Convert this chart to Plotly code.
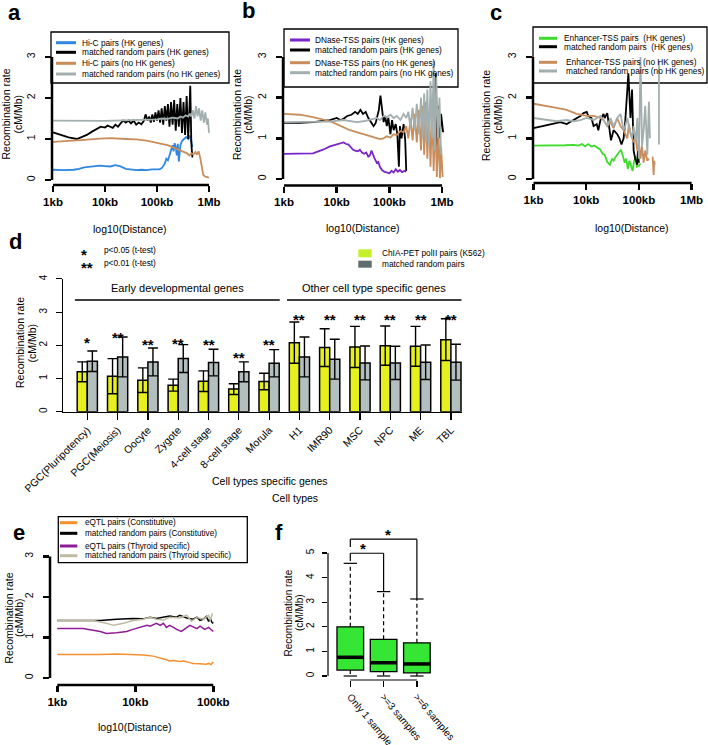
import plotly.graph_objects as go

W, H = 708, 745
FONT = "Liberation Sans, Arial, Helvetica, sans-serif"

# ======================= DATA =======================
dist_ticks = [3, 4, 5, 6]                 # log10(distance in bp)
dist_labels = ["1kb", "10kb", "100kb", "1Mb"]
rate_ticks = [0, 1, 2, 3]

# ---- panel a : Hi-C ----
a_hic_hk_x = [3.00, 3.20, 3.40, 3.50, 3.60, 3.70, 3.80, 3.90, 4.00, 4.10, 4.20, 4.30, 4.40, 4.50, 4.60,
              4.70, 4.80, 4.90, 5.00, 5.05, 5.10, 5.15, 5.18, 5.21, 5.24, 5.27, 5.30, 5.32, 5.34, 5.36,
              5.38, 5.40, 5.42, 5.45, 5.48, 5.52, 5.56, 5.60, 5.63, 5.66, 5.68]
a_hic_hk_y = [0.25, 0.24, 0.25, 0.27, 0.31, 0.32, 0.33, 0.35, 0.34, 0.33, 0.36, 0.33, 0.27, 0.25, 0.24,
              0.25, 0.24, 0.26, 0.27, 0.26, 0.30, 0.40, 0.52, 0.48, 0.60, 0.75, 0.85, 0.70, 0.90, 0.80,
              0.60, 0.88, 0.45, 0.85, 0.95, 1.00, 1.05, 1.00, 1.08, 0.95, 0.80]
a_rnd_hk_x = [3.00, 3.15, 3.30, 3.46, 3.55, 3.65, 3.75, 3.85, 3.92, 4.00, 4.05, 4.10, 4.15, 4.20, 4.25,
              4.30, 4.35, 4.40, 4.45, 4.50, 4.55, 4.60, 4.65, 4.70, 4.75, 4.78, 4.82, 4.85, 4.88, 4.91,
              4.94, 4.97, 5.00, 5.03, 5.06, 5.09, 5.12, 5.15, 5.18, 5.21, 5.24, 5.27, 5.30, 5.33, 5.36,
              5.39, 5.42, 5.45, 5.48, 5.51, 5.54, 5.57, 5.60, 5.62, 5.64, 5.66, 5.68]
a_rnd_hk_y = [1.16, 1.10, 1.04, 1.00, 1.05, 1.10, 1.18, 1.25, 1.30, 1.28, 1.33, 1.30, 1.27, 1.35, 1.30,
              1.38, 1.45, 1.40, 1.45, 1.38, 1.45, 1.35, 1.40, 1.36, 1.45, 1.60, 1.45, 1.55, 1.40, 1.60,
              1.42, 1.65, 1.45, 1.70, 1.40, 1.75, 1.35, 1.80, 1.45, 1.85, 1.30, 1.90, 1.35, 1.95, 1.20,
              1.85, 1.30, 2.00, 1.15, 1.90, 1.10, 2.05, 1.00, 1.60, 2.30, 0.90, 0.55]
a_hic_nohk_x = [3.00, 3.30, 3.60, 3.90, 4.10, 4.40, 4.60, 4.80, 5.00, 5.10, 5.20, 5.30, 5.40, 5.50,
                5.58, 5.62, 5.66, 5.70, 5.74, 5.77, 5.80, 5.83, 5.86, 5.89, 5.93, 5.97, 6.00]
a_hic_nohk_y = [0.93, 0.95, 0.98, 1.01, 1.02, 1.00, 0.99, 0.96, 0.90, 0.88, 0.85, 0.80, 0.74, 0.70,
                0.65, 0.60, 0.65, 0.62, 0.68, 0.62, 0.70, 0.55, 0.35, 0.12, 0.08, 0.06, 0.06]
a_rnd_nohk_x = [3.00, 3.50, 4.00, 4.50, 4.80, 5.00, 5.10, 5.20, 5.30, 5.40, 5.45, 5.50, 5.55, 5.60,
                5.63, 5.66, 5.69, 5.72, 5.75, 5.78, 5.81, 5.84, 5.87, 5.90, 5.93, 5.96, 5.98, 6.00]
a_rnd_nohk_y = [1.45, 1.45, 1.44, 1.46, 1.47, 1.48, 1.50, 1.49, 1.52, 1.50, 1.55, 1.52, 1.58, 1.55,
                1.62, 1.55, 1.70, 1.50, 1.80, 1.55, 1.75, 1.45, 1.70, 1.40, 1.65, 1.35, 1.50, 1.15]

# ---- panel b : DNase-TSS ----
b_dn_hk_x = [3.00, 3.30, 3.55, 3.65, 3.74, 3.87, 3.95, 4.05, 4.13, 4.18, 4.22, 4.27, 4.31, 4.35, 4.40,
             4.44, 4.48, 4.52, 4.56, 4.60, 4.63, 4.66, 4.69, 4.72, 4.76, 4.79, 4.82, 4.86, 4.90, 4.95,
             5.00, 5.04, 5.08, 5.12, 5.16, 5.20, 5.24, 5.28, 5.32]
b_dn_hk_y = [0.62, 0.62, 0.63, 0.68, 0.72, 0.80, 0.83, 0.87, 0.90, 0.86, 0.85, 0.78, 0.72, 0.70, 0.68,
             0.72, 0.65, 0.62, 0.65, 0.55, 0.58, 0.70, 0.58, 0.50, 0.40, 0.42, 0.30, 0.22, 0.18, 0.15,
             0.14, 0.20, 0.16, 0.24, 0.18, 0.22, 0.17, 0.20, 0.18]
b_rnd_hk_x = [3.00, 3.30, 3.55, 3.74, 3.87, 4.00, 4.07, 4.13, 4.20, 4.28, 4.35, 4.40, 4.45, 4.50, 4.55,
              4.60, 4.65, 4.70, 4.74, 4.77, 4.80, 4.83, 4.86, 4.89, 4.92, 4.95, 4.98, 5.02, 5.05, 5.08,
              5.12, 5.15, 5.18, 5.20, 5.23, 5.27, 5.30, 5.32, None, 5.86, 5.88, 5.90, 5.93, 5.96, 5.98, 6.02]
b_rnd_hk_y = [1.38, 1.38, 1.40, 1.42, 1.45, 1.50, 1.45, 1.48, 1.55, 1.58, 1.65, 1.60, 1.70, 1.60, 1.65,
              1.50, 1.40, 1.30, 1.38, 1.55, 1.70, 2.05, 1.75, 1.40, 1.55, 1.30, 1.50, 1.10, 1.45, 1.20,
              1.35, 1.10, 0.30, 1.30, 1.00, 1.35, 0.95, 0.20, None, 1.40, 2.60, 0.80, 1.80, 1.00, 1.60, 1.15]
b_dn_nohk_x = [3.00, 3.30, 3.55, 3.74, 3.87, 4.00, 4.13, 4.25, 4.38, 4.51, 4.63, 4.76, 4.82, 4.89, 4.95,
               5.02, 5.08, 5.14, 5.21, 5.27, 5.32, 5.36, 5.40, 5.44, 5.48, 5.52, 5.56, 5.60, 5.63, 5.66,
               5.69, 5.72, 5.75, 5.78, 5.81, 5.84, 5.87, 5.90, 5.93, 5.96, 5.98, 6.01]
b_dn_nohk_y = [1.60, 1.58, 1.52, 1.47, 1.42, 1.35, 1.27, 1.20, 1.15, 1.10, 1.06, 1.00, 0.98, 1.00, 1.05,
               1.02, 1.10, 1.08, 1.18, 1.15, 1.30, 1.00, 1.50, 0.95, 1.60, 0.90, 1.70, 0.70, 1.80, 0.60,
               1.90, 0.50, 1.60, 0.30, 1.70, 0.20, 1.50, 0.05, 1.20, 0.02, 0.80, 0.05]
b_rnd_nohk_x = [3.00, 3.50, 3.87, 4.13, 4.38, 4.51, 4.63, 4.76, 4.82, 4.89, 4.95, 5.02, 5.08, 5.14, 5.21,
                5.27, 5.32, 5.36, 5.40, 5.44, 5.48, 5.52, 5.56, 5.60, 5.63, 5.66, 5.69, 5.72, 5.75, 5.78,
                5.81, 5.84, 5.86, 5.89, 5.92, 5.95, 5.98]
b_rnd_nohk_y = [1.40, 1.40, 1.41, 1.45, 1.40, 1.42, 1.45, 1.50, 1.45, 1.55, 1.52, 1.58, 1.50, 1.55, 1.45,
                1.60, 1.50, 1.65, 1.25, 1.75, 1.20, 1.85, 1.10, 2.00, 1.00, 2.10, 0.90, 2.20, 0.80, 2.40,
                1.00, 2.90, 0.70, 2.50, 1.00, 2.00, 0.60]

# ---- panel c : Enhancer-TSS ----
c_en_hk_x = [3.00, 3.30, 3.60, 3.76, 3.85, 3.92, 3.98, 4.04, 4.10, 4.16, 4.22, 4.27, 4.31, 4.35, 4.40,
             4.45, 4.49, 4.52, 4.56, 4.62, 4.66, 4.70, 4.73, 4.76, 4.79, 4.82, 4.85, 4.88, 4.91, 4.94,
             4.96, 5.00, 5.03]
c_en_hk_y = [0.82, 0.82, 0.83, 0.84, 0.82, 0.86, 0.80, 0.86, 0.80, 0.82, 0.76, 0.72, 0.62, 0.60, 0.42,
             0.35, 0.50, 0.45, 0.55, 0.65, 0.72, 0.55, 0.40, 0.50, 0.25, 0.45, 0.30, 0.20, 0.45, 0.55,
             0.30, 0.32, 0.38]
c_rnd_hk_x = [3.00, 3.19, 3.38, 3.51, 3.63, 3.76, 3.89, 3.95, 4.01, 4.04, 4.10, 4.14, 4.20, 4.23, 4.27,
              4.33, 4.35, 4.40, 4.42, 4.44, 4.47, 4.50, 4.52, 4.59, 4.63, 4.67, 4.71, 4.74, 4.80, 4.84,
              4.87, 4.90, 4.93, 4.97, 4.98, 5.00]
c_rnd_hk_y = [1.25, 1.30, 1.35, 1.40, 1.35, 1.45, 1.55, 1.62, 1.65, 1.55, 1.50, 1.30, 1.35, 1.20, 1.45,
              1.60, 1.50, 1.62, 1.40, 1.20, 0.95, 1.10, 1.20, 1.10, 1.00, 0.85, 1.00, 1.40, 2.60, 1.50,
              2.20, 0.70, 0.50, 0.35, 0.70, 0.40]
c_en_nohk_x = [3.00, 3.25, 3.44, 3.63, 3.82, 4.01, 4.14, 4.27, 4.33, 4.40, 4.46, 4.52, 4.59, 4.65, 4.71,
               4.78, 4.81, 4.84, 4.90, 4.94, 4.97, 5.00, 5.03, 5.06, 5.09, 5.12, 5.16, 5.19, None, 5.26,
               5.28, 5.29, 5.30]
c_en_nohk_y = [1.85, 1.80, 1.75, 1.70, 1.60, 1.55, 1.55, 1.50, 1.45, 1.30, 1.40, 1.25, 1.50, 1.30, 1.20,
               1.00, 1.35, 1.15, 0.90, 1.00, 0.70, 0.90, 0.50, 0.80, 0.40, 0.70, 0.45, 0.50, None, 0.55,
               0.10, 0.45, 0.35]
c_rnd_nohk_x = [3.00, 3.25, 3.44, 3.63, 3.76, 3.89, 4.01, 4.14, 4.27, 4.33, 4.40, 4.46, 4.52, 4.59, 4.65,
                4.71, 4.74, 4.78, 4.84, 4.87, 4.90, 4.94, 4.97, 5.00, 5.03, 5.06, 5.09, 5.12, 5.16, 5.19,
                5.21, None, 5.38, 5.38]
c_rnd_nohk_y = [1.50, 1.45, 1.42, 1.45, 1.42, 1.45, 1.50, 1.45, 1.55, 1.45, 1.30, 1.50, 1.30, 1.50, 1.60,
                1.20, 1.30, 1.50, 1.10, 1.00, 1.30, 0.90, 1.50, 0.50, 3.00, 0.80, 1.20, 1.80, 0.60, 1.90,
                1.00, None, 0.85, 2.90]

# ---- panel d : ChIA-PET bars ----
d_cells = ["PGC(Pluripotency)", "PGC(Meiosis)", "Oocyte", "Zygote", "4-cell stage", "8-cell stage",
           "Morula", "H1", "IMR90", "MSC", "NPC", "ME", "TBL"]
d_chia_mean = [1.20, 1.07, 0.95, 0.80, 0.92, 0.68, 0.91, 2.08, 1.93, 1.95, 1.99, 1.97, 2.17]
d_chia_err = [0.30, 0.53, 0.37, 0.18, 0.31, 0.16, 0.25, 0.62, 0.57, 0.62, 0.59, 0.60, 0.63]
d_rand_mean = [1.52, 1.65, 1.50, 1.60, 1.48, 1.20, 1.46, 1.65, 1.58, 1.47, 1.47, 1.49, 1.49]
d_rand_err = [0.31, 0.60, 0.42, 0.42, 0.40, 0.30, 0.41, 0.60, 0.60, 0.51, 0.50, 0.52, 0.54]
d_sig = ["*", "**", "**", "**", "**", "**", "**", "**", "**", "**", "**", "**", "**"]
d_sig_y = [2.25, 2.40, 2.17, 2.22, 2.17, 1.78, 2.17, 2.92, 2.92, 2.92, 2.92, 2.92, 2.92]
d_groups = [("Early developmental genes", 0, 6), ("Other cell type specific genes", 7, 12)]

# ---- panel e : eQTL ----
e_const_x = [3.00, 3.33, 3.55, 3.76, 3.97, 4.10, 4.23, 4.32, 4.40, 4.44, 4.49, 4.57, 4.62, 4.70, 4.74,
             4.83, 4.91, 4.94, 4.97, 5.00]
e_const_y = [0.58, 0.57, 0.58, 0.59, 0.58, 0.57, 0.54, 0.50, 0.45, 0.42, 0.43, 0.41, 0.42, 0.38, 0.36,
             0.35, 0.34, 0.36, 0.33, 0.40]
e_rnd_const_x = [3.00, 3.55, 3.76, 3.97, 4.10, 4.19, 4.27, 4.36, 4.44, 4.53, 4.57, 4.66, 4.74, 4.79, 4.83,
                 4.87, 4.91, 4.94, 4.96, 4.98, 5.00]
e_rnd_const_y = [1.42, 1.42, 1.45, 1.47, 1.46, 1.50, 1.47, 1.50, 1.53, 1.50, 1.55, 1.48, 1.45, 1.50, 1.42,
                 1.45, 1.52, 1.40, 1.48, 1.38, 1.35]
e_thy_x = [3.00, 3.33, 3.55, 3.63, 3.76, 3.89, 3.97, 4.06, 4.15, 4.19, 4.27, 4.32, 4.36, 4.40, 4.44,
           4.49, 4.53, 4.59, 4.66, 4.70, 4.79, 4.83, 4.89, 4.94, 4.98, 5.00]
e_thy_y = [1.22, 1.22, 1.15, 1.10, 1.12, 1.15, 1.20, 1.25, 1.30, 1.28, 1.35, 1.30, 1.35, 1.25, 1.30,
           1.25, 1.20, 1.15, 1.25, 1.30, 1.22, 1.28, 1.20, 1.25, 1.18, 1.15]
e_rnd_thy_x = [3.00, 3.46, 3.63, 3.72, 3.85, 3.97, 4.10, 4.19, 4.27, 4.36, 4.44, 4.57, 4.66, 4.72, 4.79,
               4.87, 4.94, 4.96, 4.99]
e_rnd_thy_y = [1.42, 1.42, 1.35, 1.30, 1.35, 1.42, 1.45, 1.50, 1.45, 1.43, 1.50, 1.48, 1.55, 1.40, 1.50,
               1.45, 1.55, 1.42, 1.60]
e_ticks = [3, 4, 5]
e_labels = ["1kb", "10kb", "100kb"]

# ---- panel f : boxplots ----
f_groups = ["Only 1 sample", ">=3 samples", ">=6 samples"]
f_pos = [1, 2, 3]
f_low = [0.0, 0.0, 0.0]
f_q1 = [0.24, 0.18, 0.13]
f_med = [0.76, 0.54, 0.49]
f_q3 = [2.00, 1.49, 1.35]
f_high = [4.58, 3.43, 3.13]
f_brackets = [(1, 2, 4.99, 4.67, 1.39), (1, 3, 5.56, 5.24, 2.14)]   # (from, to, height, left-leg end, star x)

# ======================= STYLE =======================
C_BLUE, C_BLACK, C_BROWN, C_GREY = "#2F87E2", "#000000", "#C98D5B", "#A3AEAE"
C_PURPLE, C_GREEN = "#7B25C9", "#3DDC2A"
C_ORANGE, C_MAGENTA, C_KHAKI = "#F5902E", "#901A98", "#BFBAA2"
C_YELLOW, C_BARGREY = "#E6F01E", "#B3BFBE"
C_LEG_YELLOW, C_LEG_GREY = "#C6F02A", "#5E6D6D"
C_BOX = "#35E635"
LEG_SIZE = 8.3


class Panel:
    """Pixel layout of one subplot: domain box and value->pixel anchor."""
    def __init__(self, xl, xr, yt, yb, xv0, xp0, xs, yv0, yp0, ys):
        self.xl, self.xr, self.yt, self.yb = xl, xr, yt, yb
        self.xv0, self.xp0, self.xs = xv0, xp0, xs
        self.yv0, self.yp0, self.ys = yv0, yp0, ys
        self.xrange = [xv0 + (xl - xp0) / xs, xv0 + (xr - xp0) / xs]
        self.yrange = [yv0 + (yp0 - yb) / ys, yv0 + (yp0 - yt) / ys]

    def xdom(self):
        return [self.xl / W, self.xr / W]

    def ydom(self):
        return [1 - self.yb / H, 1 - self.yt / H]

    def X(self, v):
        return (self.xp0 + (v - self.xv0) * self.xs) / W

    def Y(self, v):
        return 1 - (self.yp0 - (v - self.yv0) * self.ys) / H


PA = Panel(52, 222, 40, 185, 3, 53, 52.0, 0, 180, 41.0)
PB = Panel(283, 452, 40, 185.5, 3, 284, 52.7, 0, 179, 40.67)
PC = Panel(533, 703, 40, 183, 3, 533.5, 52.7, 0, 179, 40.67)
PD = Panel(63, 462, 278.9, 411.7, 0, 87.3, 30.3, 0, 411.7, 33.2)
PE = Panel(50, 226, 548, 685, 3, 57.3, 78.0, 0, 678, 40.5)
PF = Panel(328, 437, 528, 680, 1, 350.3, 33.3, 0, 676, 24.6)

fig = go.Figure()
shapes = []
annots = []


def px_x(p):
    return p / W


def px_y(p):
    return 1 - p / H


def text(x, y, s, size=10, bold=False, xanchor="center", yanchor="middle", angle=0, yshift=0):
    annots.append(dict(x=x, y=y, xref="paper", yref="paper", text=("<b>%s</b>" % s) if bold else s,
                       showarrow=False, xanchor=xanchor, yanchor=yanchor, textangle=angle, yshift=yshift,
                       font=dict(family=FONT, size=size, color="black")))


def pline(x0, y0, x1, y1, w=1.0, color="black", dash=None):
    ln = dict(color=color, width=w)
    if dash:
        ln["dash"] = dash
    shapes.append(dict(type="line", xref="paper", yref="paper", x0=x0, y0=y0, x1=x1, y1=y1, line=ln))


def add_line(xs, ys, color, w, ax):
    fig.add_trace(go.Scatter(x=xs, y=ys, mode="lines", line=dict(color=color, width=w),
                             xaxis="x" + ax, yaxis="y" + ax, hoverinfo="skip", connectgaps=False))


def legend_box(l, t, r, b, entries, sx0, sx1, tx, size=LEG_SIZE):
    shapes.append(dict(type="rect", xref="paper", yref="paper", x0=px_x(l), x1=px_x(r),
                       y0=px_y(b), y1=px_y(t), line=dict(color="black", width=1.3), layer="below"))
    for color, label, yy, txx in entries:
        pline(px_x(sx0), px_y(yy), px_x(sx1), px_y(yy), w=3, color=color)
        text(px_x(txx if txx else tx), px_y(yy), label, size=size, xanchor="left")


def line_axes(n, P, tickvals, ticklabels):
    ax = dict(domain=P.xdom(), range=P.xrange, anchor="y" + n, tickvals=tickvals, automargin=False,
              ticktext=["<b>%s</b>" % t for t in ticklabels], ticks="outside", ticklen=6, tickwidth=2.5,
              tickcolor="black", showline=False, showgrid=False, zeroline=False,
              tickfont=dict(family=FONT, size=11.5, color="black"))
    ay = dict(domain=P.ydom(), range=P.yrange, anchor="x" + n, tickvals=rate_ticks, tickangle=-90,
              ticks="outside", ticklen=6, tickwidth=2.5, tickcolor="black", showline=False,
              showgrid=False, zeroline=False, ticklabelstandoff=6, automargin=False,
              tickfont=dict(family=FONT, size=10.5, color="black"))
    # R-style detached axis lines spanning the tick range
    pline(px_x(P.xl), P.Y(rate_ticks[0]), px_x(P.xl), P.Y(rate_ticks[-1]), w=2.5)
    pline(P.X(tickvals[0]), px_y(P.yb), P.X(tickvals[-1]), px_y(P.yb), w=2.5)
    return ax, ay


def ytitle(x1, x2, yc, size=10.5):
    text(px_x(x1), px_y(yc), "Recombination rate", size=size, angle=-90)
    text(px_x(x2), px_y(yc), "(cM/Mb)", size=size, angle=-90)


layout_axes = {}

# ---------------- panel a ----------------
add_line(a_hic_hk_x, a_hic_hk_y, C_BLUE, 1.8, "")
add_line(a_rnd_hk_x, a_rnd_hk_y, C_BLACK, 1.8, "")
add_line(a_hic_nohk_x, a_hic_nohk_y, C_BROWN, 1.8, "")
add_line(a_rnd_nohk_x, a_rnd_nohk_y, C_GREY, 1.8, "")
ax, ay = line_axes("", PA, dist_ticks, dist_labels)
ax["anchor"] = "y"; ay["anchor"] = "x"
layout_axes["xaxis"] = ax; layout_axes["yaxis"] = ay
legend_box(51, 32, 229, 83,
           [(C_BLUE, "Hi-C pairs (HK genes)", 42.7, None),
            (C_BLACK, "matched random pairs (HK genes)", 52.3, None),
            (C_BROWN, "Hi-C pairs (no HK genes)", 63.3, None),
            (C_GREY, "matched random pairs (no HK genes)", 74, None)], 56, 76, 80)
ytitle(5.5, 17.5, 114)
text(px_x(130), px_y(229), "log10(Distance)", size=10.5)
text(px_x(14), px_y(12), "a", size=22, bold=True)

# ---------------- panel b ----------------
add_line(b_dn_hk_x, b_dn_hk_y, C_PURPLE, 1.8, "2")
add_line(b_rnd_hk_x, b_rnd_hk_y, C_BLACK, 1.8, "2")
add_line(b_dn_nohk_x, b_dn_nohk_y, C_BROWN, 1.8, "2")
add_line(b_rnd_nohk_x, b_rnd_nohk_y, C_GREY, 1.8, "2")
ax, ay = line_axes("2", PB, dist_ticks, dist_labels)
layout_axes["xaxis2"] = ax; layout_axes["yaxis2"] = ay
legend_box(284, 29, 458, 87,
           [(C_PURPLE, "DNase-TSS pairs (HK genes)", 40, None),
            (C_BLACK, "matched random pairs (HK genes)", 50, None),
            (C_BROWN, "DNase-TSS pairs (no HK genes)", 62.7, None),
            (C_GREY, "matched random pairs (no HK genes)", 72.7, None)], 290, 310, 313)
ytitle(237, 248, 115)
text(px_x(363), px_y(228), "log10(Distance)", size=10.5)
text(px_x(248), px_y(11), "b", size=22, bold=True)

# ---------------- panel c ----------------
add_line(c_en_hk_x, c_en_hk_y, C_GREEN, 1.8, "3")
add_line(c_rnd_hk_x, c_rnd_hk_y, C_BLACK, 1.8, "3")
add_line(c_en_nohk_x, c_en_nohk_y, C_BROWN, 1.8, "3")
add_line(c_rnd_nohk_x, c_rnd_nohk_y, C_GREY, 1.8, "3")
ax, ay = line_axes("3", PC, dist_ticks, dist_labels)
layout_axes["xaxis3"] = ax; layout_axes["yaxis3"] = ay
legend_box(533, 27, 707, 83,
           [(C_GREEN, "Enhancer-TSS pairs \u00a0(HK genes)", 38.3, 562),
            (C_BLACK, "matched random pairs \u00a0(HK genes)", 46.7, 562),
            (C_BROWN, "Enhancer-TSS pairs (no HK genes)", 62.3, 564),
            (C_GREY, "matched random pairs (no HK genes)", 71, 564)], 539, 557, 562)
ytitle(486, 498, 115)
text(px_x(632), px_y(228), "log10(Distance)", size=10.5)
text(px_x(496), px_y(12), "c", size=22, bold=True)

# ---------------- panel d ----------------
fig.add_trace(go.Bar(x=d_cells, y=d_chia_mean, xaxis="x4", yaxis="y4",
                     marker=dict(color=C_YELLOW, line=dict(color="black", width=1.5)),
                     error_y=dict(type="data", array=d_chia_err, color="black", thickness=1.4, width=5),
                     hoverinfo="skip"))
fig.add_trace(go.Bar(x=d_cells, y=d_rand_mean, xaxis="x4", yaxis="y4",
                     marker=dict(color=C_BARGREY, line=dict(color="black", width=1.5)),
                     error_y=dict(type="data", array=d_rand_err, color="black", thickness=1.4, width=5),
                     hoverinfo="skip"))
layout_axes["xaxis4"] = dict(domain=PD.xdom(), range=PD.xrange, anchor="y4", type="category",
                             tickangle=-45, ticks="outside", ticklen=7, tickwidth=1.2, tickcolor="black",
                             showline=True, linecolor="black", linewidth=1.2, showgrid=False,
                             zeroline=False, automargin=False,
                             tickfont=dict(family=FONT, size=10.5, color="black"))
layout_axes["yaxis4"] = dict(domain=PD.ydom(), range=PD.yrange, anchor="x4", tickvals=[0, 1, 2, 3, 4],
                             tickangle=-90, ticks="outside", ticklen=6, tickwidth=1.2, tickcolor="black",
                             showline=True, linecolor="black", linewidth=1.2, showgrid=False,
                             zeroline=False, ticklabelstandoff=5, automargin=False,
                             tickfont=dict(family=FONT, size=10, color="black"))
for i, (s, yv) in enumerate(zip(d_sig, d_sig_y)):
    annots.append(dict(x=d_cells[i], y=yv, xref="x4", yref="y4", text="<b>%s</b>" % s, showarrow=False,
                       yshift=-5, font=dict(family=FONT, size=15, color="black")))
for label, i0, i1 in d_groups:
    x0 = PD.X(i0 - 0.41)
    x1 = PD.X(i1 + 0.35)
    pline(x0, px_y(300), x1, px_y(300), w=1.3)
    text((x0 + x1) / 2, px_y(287.5), label, size=11)
ytitle(20, 31.5, 343)
text(px_x(270), px_y(481), "Cell types specific genes", size=10.5)
text(px_x(295), px_y(498), "Cell types", size=10.5)
text(px_x(15), px_y(242), "d", size=22, bold=True)
# significance key
text(px_x(84), px_y(250), "<b>*</b>", size=15, yshift=-5)
text(px_x(101.7), px_y(250), "p<0.05 (t-test)", size=8.3, xanchor="left")
text(px_x(87), px_y(262.5), "<b>**</b>", size=15, yshift=-5)
text(px_x(101.7), px_y(263), "p<0.01 (t-test)", size=8.3, xanchor="left")
# bar legend
shapes.append(dict(type="rect", xref="paper", yref="paper", x0=px_x(358.3), x1=px_x(371.7),
                   y0=px_y(257.3), y1=px_y(249.3), fillcolor=C_LEG_YELLOW, line=dict(width=0)))
shapes.append(dict(type="rect", xref="paper", yref="paper", x0=px_x(358.3), x1=px_x(371.7),
                   y0=px_y(267.7), y1=px_y(260.7), fillcolor=C_LEG_GREY, line=dict(width=0)))
text(px_x(380), px_y(253), "ChIA-PET polII pairs (K562)", size=8.3, xanchor="left")
text(px_x(380), px_y(264.3), "matched random pairs", size=8.3, xanchor="left")

# ---------------- panel e ----------------
add_line(e_const_x, e_const_y, C_ORANGE, 1.5, "5")
add_line(e_rnd_const_x, e_rnd_const_y, C_BLACK, 1.5, "5")
add_line(e_thy_x, e_thy_y, C_MAGENTA, 1.5, "5")
add_line(e_rnd_thy_x, e_rnd_thy_y, C_KHAKI, 1.5, "5")
ax, ay = line_axes("5", PE, e_ticks, e_labels)
layout_axes["xaxis5"] = ax; layout_axes["yaxis5"] = ay
legend_box(58.3, 516.7, 247.3, 562.7,
           [(C_ORANGE, "eQTL pairs (Constitutive)", 522.7, None),
            (C_BLACK, "matched random pairs (Constitutive)", 533.3, None),
            (C_MAGENTA, "eQTL pairs (Thyroid specific)", 546, None),
            (C_KHAKI, "matched random pairs (Thyroid specific)", 555.7, None)], 60, 77.3, 82.7, size=8.2)
ytitle(8.5, 19, 618)
text(px_x(135), px_y(727), "log10(Distance)", size=10.5)
text(px_x(19), px_y(532), "e", size=22, bold=True)

# ---------------- panel f ----------------
fig.add_trace(go.Bar(x=f_pos, y=[q3 - q1 for q1, q3 in zip(f_q1, f_q3)], base=f_q1, width=0.8,
                     xaxis="x6", yaxis="y6", marker=dict(color=C_BOX, line=dict(color="black", width=1.3)),
                     hoverinfo="skip"))
wx, wy, cx, cy, mx, my = [], [], [], [], [], []
for p, lo, q1, md, q3, hi in zip(f_pos, f_low, f_q1, f_med, f_q3, f_high):
    wx += [p, p, None, p, p, None]
    wy += [q3, hi, None, q1, lo, None]
    cx += [p - 0.2, p + 0.2, None, p - 0.2, p + 0.2, None]
    cy += [hi, hi, None, lo, lo, None]
    mx += [p - 0.4, p + 0.4, None]
    my += [md, md, None]
fig.add_trace(go.Scatter(x=wx, y=wy, mode="lines", line=dict(color="black", width=1.2, dash="4px,3px"),
                         xaxis="x6", yaxis="y6", hoverinfo="skip"))
fig.add_trace(go.Scatter(x=cx, y=cy, mode="lines", line=dict(color="black", width=1.2),
                         xaxis="x6", yaxis="y6", hoverinfo="skip"))
fig.add_trace(go.Scatter(x=mx, y=my, mode="lines", line=dict(color="black", width=3.5),
                         xaxis="x6", yaxis="y6", hoverinfo="skip"))
layout_axes["xaxis6"] = dict(domain=PF.xdom(), range=PF.xrange, anchor="y6", tickvals=f_pos,
                             ticktext=f_groups, tickangle=50, ticks="outside", ticklen=6, tickwidth=1.2,
                             tickcolor="black", showline=False, showgrid=False, zeroline=False,
                             automargin=False, tickfont=dict(family=FONT, size=10, color="black"))
layout_axes["yaxis6"] = dict(domain=PF.ydom(), range=PF.yrange, anchor="x6", tickvals=[0, 1, 2, 3, 4, 5],
                             tickangle=-90, ticks="outside", ticklen=5, tickwidth=1.2, tickcolor="black",
                             showline=False, showgrid=False, zeroline=False, ticklabelstandoff=4,
                             automargin=False, tickfont=dict(family=FONT, size=10, color="black"))
pline(px_x(PF.xl), PF.Y(0), px_x(PF.xl), PF.Y(5), w=1.2)
pline(PF.X(f_pos[0]), px_y(PF.yb), PF.X(f_pos[-1]), px_y(PF.yb), w=1.2)
for i0, i1, hgt, leg, sx in f_brackets:
    xa, xb = PF.X(f_pos[i0 - 1]), PF.X(f_pos[i1 - 1])
    pline(xa, PF.Y(hgt), xb, PF.Y(hgt), w=1.2)
    pline(xa, PF.Y(hgt), xa, PF.Y(leg), w=1.2)
    pline(xb, PF.Y(hgt), xb, PF.Y(f_high[i1 - 1]), w=1.2)
    annots.append(dict(x=sx, y=hgt, xref="x6", yref="y6", text="<b>*</b>", showarrow=False, yanchor="bottom",
                       yshift=-6, font=dict(family=FONT, size=15, color="black")))
ytitle(287.5, 299, 613, size=10)
text(px_x(279), px_y(532), "f", size=22, bold=True)

fig.update_layout(template="none", width=W, height=H, margin=dict(l=0, r=0, t=0, b=0, autoexpand=False),
                  paper_bgcolor="white", plot_bgcolor="rgba(0,0,0,0)", showlegend=False, barmode="group",
                  bargap=1 / 3, bargroupgap=0, shapes=shapes, annotations=annots,
                  font=dict(family=FONT, color="black"), **layout_axes)
fig.write_html("out.html", config={"displayModeBar": False, "staticPlot": True},
               post_script="document.body.style.margin='0px';document.body.style.overflow='hidden';")
